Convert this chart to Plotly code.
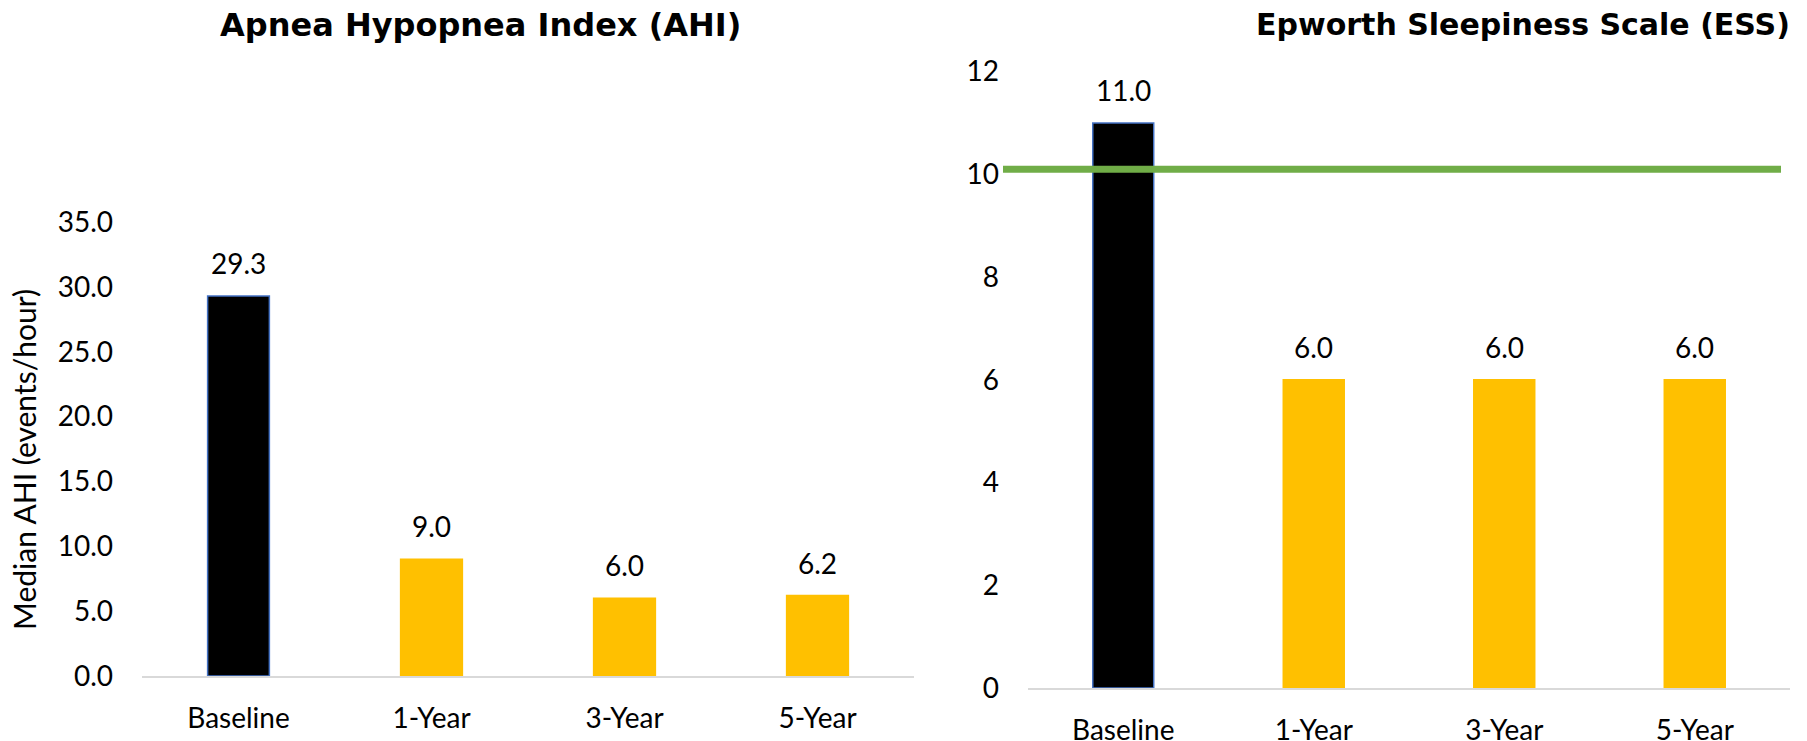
import plotly.graph_objects as go

categories = ["Baseline", "1-Year", "3-Year", "5-Year"]
ahi_values = [29.3, 9.0, 6.0, 6.2]
ess_values = [11.0, 6.0, 6.0, 6.0]
ess_threshold = 10.1
bar_colors = ["#000000", "#FFC000", "#FFC000", "#FFC000"]
line_colors = ["#4472C4", "#FFC000", "#FFC000", "#FFC000"]
ahi_ticks = [0, 5, 10, 15, 20, 25, 30, 35]
ess_ticks = [0, 2, 4, 6, 8, 10, 12]

W, H = 1807, 741
FONT = "Lato"
FS = 28

fig = go.Figure()
fig.add_trace(go.Bar(x=categories, y=ahi_values, xaxis="x", yaxis="y",
                     marker=dict(color=bar_colors, line=dict(color=line_colors, width=1.5)),
                     showlegend=False, hoverinfo="skip"))
fig.add_trace(go.Bar(x=categories, y=ess_values, xaxis="x2", yaxis="y2",
                     marker=dict(color=bar_colors, line=dict(color=line_colors, width=1.5)),
                     showlegend=False, hoverinfo="skip"))

def px_x(p):
    return p / W

def px_y(p):
    return 1 - p / H

axis_common = dict(showgrid=False, zeroline=False, automargin=False,
                   tickfont=dict(family=FONT, size=FS, color="#000000"))

annotations = []
for c, v in zip(categories, ahi_values):
    annotations.append(dict(x=c, y=v, xref="x", yref="y", text=f"{v:.1f}", showarrow=False,
                            yanchor="bottom", yshift=14, font=dict(family=FONT, size=FS, color="#000000")))
for c, v in zip(categories, ess_values):
    annotations.append(dict(x=c, y=v, xref="x2", yref="y2", text=f"{v:.1f}", showarrow=False,
                            yanchor="bottom", yshift=14, font=dict(family=FONT, size=FS, color="#000000")))

annotations.append(dict(x=px_x(480), y=px_y(25), xref="paper", yref="paper", showarrow=False,
                        text="<b>Apnea Hypopnea Index (AHI)</b>", xanchor="center", yanchor="middle",
                        font=dict(family="DejaVu Sans", size=32, color="#000000")))
annotations.append(dict(x=px_x(1792), y=px_y(25), xref="paper", yref="paper", showarrow=False,
                        text="<b>Epworth Sleepiness Scale (ESS)</b>", xanchor="right", yanchor="middle",
                        font=dict(family="DejaVu Sans", size=30, color="#000000")))
annotations.append(dict(x=px_x(24), y=px_y(460), xref="paper", yref="paper", showarrow=False,
                        text="Median AHI (events/hour)", textangle=-90, xanchor="center", yanchor="middle",
                        font=dict(family=FONT, size=30, color="#000000")))

fig.update_layout(
    width=W, height=H,
    margin=dict(l=0, r=0, t=0, b=0, autoexpand=False),
    paper_bgcolor="white", plot_bgcolor="white",
    bargap=0.68,
    xaxis=dict(domain=[px_x(142), px_x(914)], anchor="y", showline=True, linecolor="#D9D9D9", linewidth=2,
               ticks="", ticklabelstandoff=16, **axis_common),
    yaxis=dict(domain=[px_y(676), px_y(222)], anchor="x", range=[0, 35], tickvals=ahi_ticks,
               ticktext=[f"{t:.1f}" for t in ahi_ticks], showline=False, ticks="", ticklabelstandoff=28,
               **axis_common),
    xaxis2=dict(domain=[px_x(1028), px_x(1790)], anchor="y2", showline=True, linecolor="#D9D9D9", linewidth=2,
                ticks="", ticklabelstandoff=16, **axis_common),
    yaxis2=dict(domain=[px_y(688), px_y(71.6)], anchor="x2", range=[0, 12], tickvals=ess_ticks,
                ticktext=[str(t) for t in ess_ticks], showline=False, ticks="", ticklabelstandoff=28,
                **axis_common),
    annotations=annotations,
    shapes=[dict(type="line", xref="paper", yref="y2", x0=px_x(1003), x1=px_x(1781),
                 y0=ess_threshold, y1=ess_threshold, line=dict(color="#70AD47", width=7), layer="above")],
)

fig.write_html("out.html")
